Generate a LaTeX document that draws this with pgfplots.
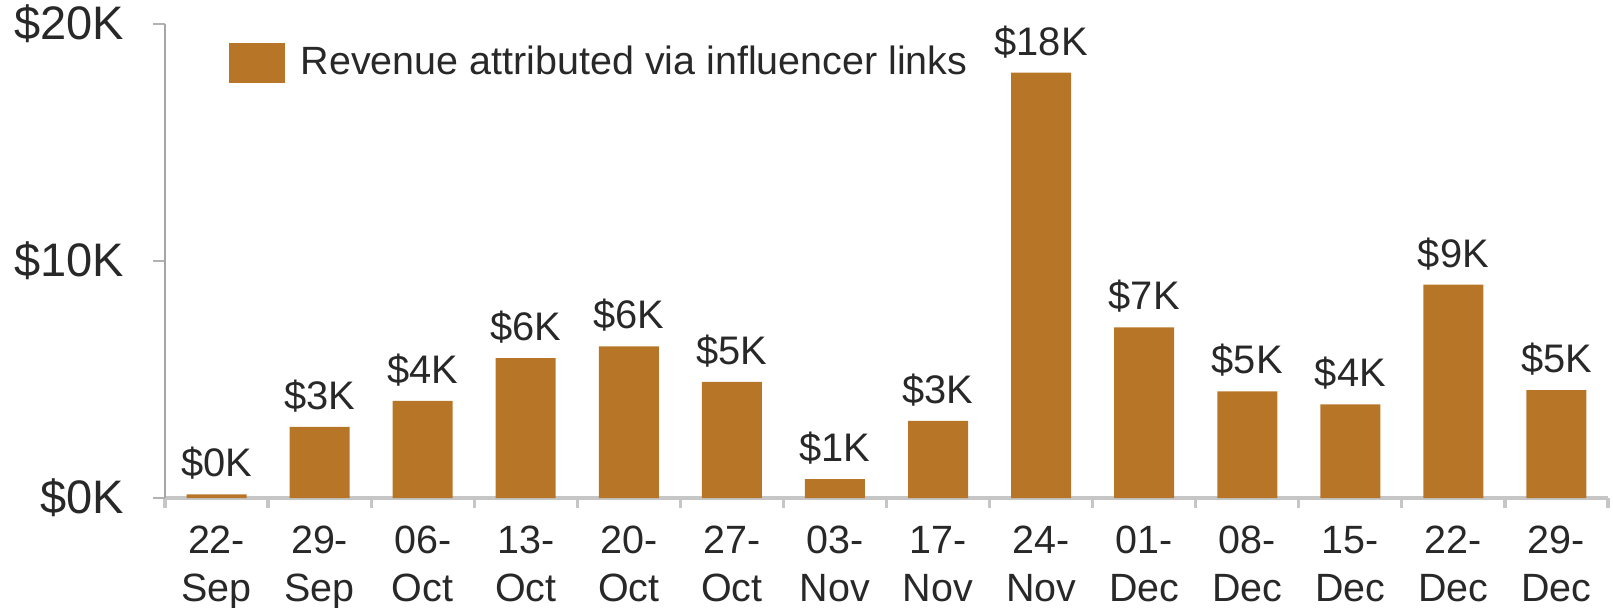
\documentclass[border=0pt]{standalone}
\usepackage{pgfplots}
\pgfplotsset{compat=1.18}
\usepackage{pgfplotstable}
\usepackage{fontspec}
\setmainfont{Liberation Sans}
\definecolor{barc}{RGB}{183,118,39}
\definecolor{txt}{RGB}{40,40,40}
\pgfplotstableread{
x y lab
0 150 0
1 3000 3
2 4100 4
3 5900 6
4 6400 6
5 4900 5
6 800 1
7 3250 3
8 17950 18
9 7200 7
10 4500 5
11 3950 4
12 9000 9
13 4550 5
}\datatable
\begin{document}
\begin{tikzpicture}
\useasboundingbox (-41.25bp,-27.5bp) rectangle (362bp,124.5bp);
\begin{axis}[
  at={(0,0)}, anchor=south west,
  scale only axis, width=360.75bp, height=118.5bp,
  xmin=-0.5, xmax=13.5, ymin=0, ymax=20000,
  axis x line=bottom, axis y line=left,
  axis line style={-},
  x axis line style={draw=gray!45, line width=1bp},
  y axis line style={draw=gray!70, line width=0.5bp},
  tick align=outside,
  xtick={0,...,13},
  major x tick style={draw=none},
  minor xtick={-0.5,0.5,...,13.5},
  minor x tick style={draw=gray!45, line width=0.8bp},
  minor tick length=2.5bp,
  ytick={0,10000,20000},
  yticklabels={\$0K,\$10K,\$20K},
  scaled y ticks=false,
  y tick style={draw=gray!60, line width=0.5bp},
  major tick length=3bp,
  yticklabel style={font=\fontsize{11.8}{14}\selectfont, text=txt, xshift=-3.75bp},
  xticklabels={{22-\\Sep},{29-\\Sep},{06-\\Oct},{13-\\Oct},{20-\\Oct},{27-\\Oct},{03-\\Nov},{17-\\Nov},{24-\\Nov},{01-\\Dec},{08-\\Dec},{15-\\Dec},{22-\\Dec},{29-\\Dec}},
  xticklabel style={align=center, font=\fontsize{9.9}{12}\selectfont, text=txt, yshift=-0.5bp},
  ybar, bar width=15bp,
  nodes near coords={\$\pgfplotspointmeta K},
  point meta=explicit symbolic,
  nodes near coords style={font=\fontsize{10}{12}\selectfont, text=txt, anchor=south, inner sep=2.5bp, yshift=1bp},
  legend style={draw=none, fill=none, inner sep=0pt, at={(0.0437,0.917)}, anchor=west,
    font=\fontsize{9.9}{12}\selectfont, text=txt},
  legend cell align=left,
  clip=false
]
\addplot[fill=barc, draw=none,
  legend image code/.code={\fill[barc] (0bp,-5bp) rectangle (14bp,5bp); \path (16bp,0bp);}]
  table[x=x,y=y,meta=lab]{\datatable};
\addlegendentry{Revenue attributed via influencer links}
\end{axis}
\end{tikzpicture}
\end{document}
